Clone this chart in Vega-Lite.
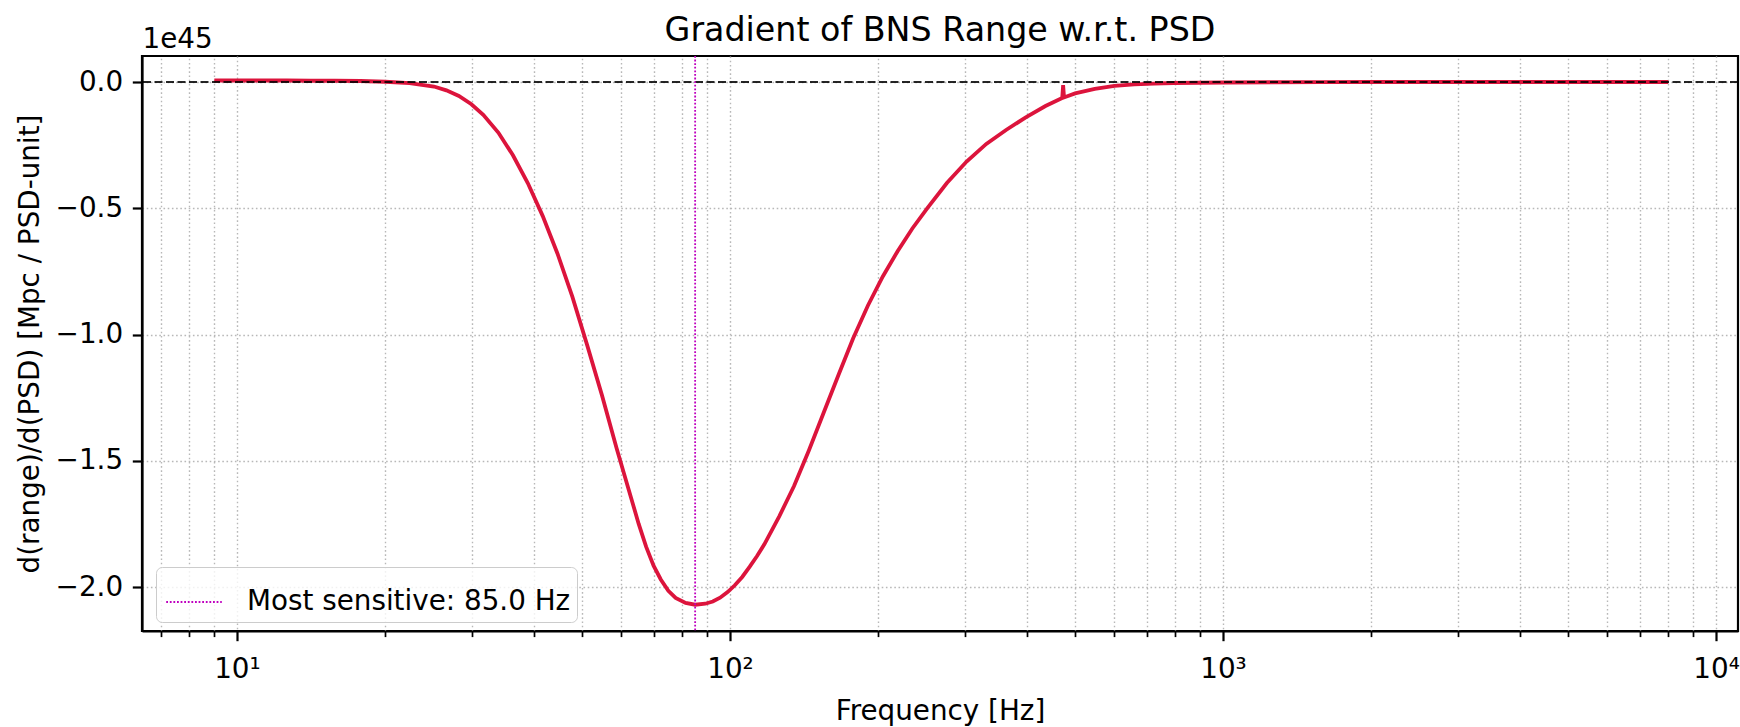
{
  "$schema": "https://vega.github.io/schema/vega-lite/v6.json",
  "width": 1596,
  "height": 575,
  "autosize": {"type": "none"},
  "padding": {"left": 142, "top": 56, "right": 2, "bottom": 96},
  "background": "white",
  "config": {
    "font": "DejaVu Sans",
    "view": {"stroke": "black", "strokeWidth": 2.2},
    "axis": {"labelFont": "DejaVu Sans", "titleFont": "DejaVu Sans", "labelColor": "black", "titleColor": "black"}
  },
  "title": {
    "text": "Gradient of BNS Range w.r.t. PSD",
    "font": "DejaVu Sans",
    "fontSize": 33.3,
    "fontWeight": "normal",
    "color": "black",
    "anchor": "middle",
    "offset": 12,
    "dy": 35
  },
  "datasets": {
    "curve": [
      {"freq": 9, "gradient": 0.006},
      {"freq": 10, "gradient": 0.006},
      {"freq": 11, "gradient": 0.006},
      {"freq": 12.6, "gradient": 0.006},
      {"freq": 14.1, "gradient": 0.005},
      {"freq": 15.8, "gradient": 0.005},
      {"freq": 17.8, "gradient": 0.004},
      {"freq": 20, "gradient": 0.001},
      {"freq": 22.4, "gradient": -0.004},
      {"freq": 25.1, "gradient": -0.018},
      {"freq": 26.6, "gradient": -0.033},
      {"freq": 28.2, "gradient": -0.055},
      {"freq": 29.9, "gradient": -0.088},
      {"freq": 31.6, "gradient": -0.13},
      {"freq": 33.9, "gradient": -0.2},
      {"freq": 36.3, "gradient": -0.29},
      {"freq": 38.9, "gradient": -0.4},
      {"freq": 41.7, "gradient": -0.53},
      {"freq": 44.7, "gradient": -0.68},
      {"freq": 47.9, "gradient": -0.85},
      {"freq": 51.3, "gradient": -1.04},
      {"freq": 55.0, "gradient": -1.24},
      {"freq": 58.9, "gradient": -1.45},
      {"freq": 63.1, "gradient": -1.65},
      {"freq": 65.3, "gradient": -1.75},
      {"freq": 67.6, "gradient": -1.84},
      {"freq": 70.0, "gradient": -1.915},
      {"freq": 72.4, "gradient": -1.97},
      {"freq": 75.0, "gradient": -2.015},
      {"freq": 77.6, "gradient": -2.043},
      {"freq": 81.3, "gradient": -2.063},
      {"freq": 85.0, "gradient": -2.07},
      {"freq": 89.1, "gradient": -2.066},
      {"freq": 92.3, "gradient": -2.057},
      {"freq": 95.5, "gradient": -2.042},
      {"freq": 98.9, "gradient": -2.02},
      {"freq": 102.3, "gradient": -1.993},
      {"freq": 105.9, "gradient": -1.96},
      {"freq": 109.6, "gradient": -1.92},
      {"freq": 113.5, "gradient": -1.877},
      {"freq": 117.5, "gradient": -1.83},
      {"freq": 125.9, "gradient": -1.72},
      {"freq": 134.9, "gradient": -1.6},
      {"freq": 144.5, "gradient": -1.46},
      {"freq": 154.9, "gradient": -1.31},
      {"freq": 166.0, "gradient": -1.16},
      {"freq": 177.8, "gradient": -1.015},
      {"freq": 190.5, "gradient": -0.885},
      {"freq": 204.2, "gradient": -0.77},
      {"freq": 218.8, "gradient": -0.67},
      {"freq": 234.4, "gradient": -0.58},
      {"freq": 251.2, "gradient": -0.5},
      {"freq": 275.4, "gradient": -0.4},
      {"freq": 302.0, "gradient": -0.315},
      {"freq": 331.1, "gradient": -0.245},
      {"freq": 363.1, "gradient": -0.19},
      {"freq": 398.1, "gradient": -0.14},
      {"freq": 436.5, "gradient": -0.095},
      {"freq": 472, "gradient": -0.063},
      {"freq": 474, "gradient": -0.012},
      {"freq": 476, "gradient": -0.061},
      {"freq": 501.2, "gradient": -0.045},
      {"freq": 549.5, "gradient": -0.027},
      {"freq": 602.6, "gradient": -0.015},
      {"freq": 660.7, "gradient": -0.009},
      {"freq": 724.4, "gradient": -0.006},
      {"freq": 794.3, "gradient": -0.004},
      {"freq": 1000, "gradient": -0.002},
      {"freq": 1259, "gradient": -0.001},
      {"freq": 1585, "gradient": -0.0005},
      {"freq": 2000, "gradient": 0.0},
      {"freq": 3162, "gradient": 0.0},
      {"freq": 5012, "gradient": 0.0},
      {"freq": 8000, "gradient": 0.0}
    ],
    "zero": [{"level": 0}],
    "peak": [{"freq": 85.0, "label": "Most sensitive: 85.0 Hz"}]
  },
  "resolve": {"axis": {"y": "independent", "x": "independent"}},
  "layer": [
    {
      "data": {"name": "curve"},
      "mark": {"type": "line", "color": "#dc143c", "strokeWidth": 3.8, "interpolate": "linear"},
      "encoding": {
        "x": {
          "field": "freq",
          "type": "quantitative",
          "scale": {"type": "log", "domain": [6.42, 11080], "nice": false},
          "axis": {
            "orient": "bottom",
            "title": "Frequency [Hz]",
            "values": [10, 100, 1000, 10000],
            "labelExpr": "datum.value == 10 ? '10¹' : datum.value == 100 ? '10²' : datum.value == 1000 ? '10³' : '10⁴'",
            "tickSize": 9.7,
            "tickWidth": 2.2,
            "tickColor": "black",
            "grid": true,
            "gridDash": [1.6, 2.6],
            "gridColor": "#b8b8b8",
            "gridWidth": 1.4,
            "domainColor": "black",
            "domainWidth": 2.2,
            "labelFontSize": 27.8,
            "labelPadding": 15,
            "labelFlush": false,
            "labelOverlap": false,
            "labelBound": false,
            "titleFontSize": 27.8,
            "titleFontWeight": "normal",
            "titleY": 80,
            "titleBaseline": "middle"
          }
        },
        "y": {
          "field": "gradient",
          "type": "quantitative",
          "scale": {"domain": [-2.174, 0.103], "nice": false, "zero": false},
          "axis": {
            "title": "d(range)/d(PSD) [Mpc / PSD-unit]",
            "values": [0, -0.5, -1, -1.5, -2],
            "format": ".1f",
            "tickSize": 9.7,
            "tickWidth": 2.2,
            "tickColor": "black",
            "labelPadding": 9.7,
            "labelFontSize": 27.8,
            "grid": true,
            "gridDash": [1.6, 2.6],
            "gridColor": "#b8b8b8",
            "gridWidth": 1.4,
            "domainColor": "black",
            "domainWidth": 2.2,
            "titleFontSize": 27.8,
            "titleFontWeight": "normal",
            "titlePadding": 11
          }
        }
      }
    },
    {
      "data": {"name": "zero"},
      "mark": {"type": "rule", "color": "black", "strokeWidth": 2.2, "strokeDash": [8, 3.5], "opacity": 0.85},
      "encoding": {
        "y": {
          "field": "level",
          "type": "quantitative",
          "scale": {"domain": [-2.174, 0.103], "nice": false, "zero": false},
          "axis": {
            "orient": "left",
            "title": "1e45",
            "titleAngle": 0,
            "titleX": 0,
            "titleY": -9,
            "titleAlign": "left",
            "titleBaseline": "alphabetic",
            "titleFontSize": 27.8,
            "titleFontWeight": "normal",
            "labels": false,
            "ticks": false,
            "domain": false,
            "grid": false
          }
        }
      }
    },
    {
      "data": {"name": "peak"},
      "mark": {"type": "rule", "strokeWidth": 1.8, "strokeDash": [1.8, 1.8]},
      "encoding": {
        "x": {
          "field": "freq",
          "type": "quantitative",
          "scale": {"type": "log", "domain": [6.42, 11080], "nice": false},
          "axis": {
            "orient": "bottom",
            "title": null,
            "values": [7, 8, 9, 20, 30, 40, 50, 60, 70, 80, 90, 200, 300, 400, 500, 600, 700, 800, 900, 2000, 3000, 4000, 5000, 6000, 7000, 8000, 9000],
            "labels": false,
            "domain": false,
            "tickSize": 5.6,
            "tickWidth": 1.7,
            "tickColor": "black",
            "grid": true,
            "gridDash": [1.6, 2.6],
            "gridColor": "#b8b8b8",
            "gridWidth": 1.4
          }
        },
        "color": {
          "field": "label",
          "type": "nominal",
          "scale": {"range": ["#bf00bf"]},
          "legend": {
            "title": null,
            "orient": "none",
            "legendX": 14,
            "legendY": 511,
            "symbolType": "stroke",
            "symbolSize": 3090,
            "symbolStrokeWidth": 1.8,
            "symbolDash": [1.8, 1.8],
            "symbolOffset": 3,
            "labelFontSize": 27.8,
            "labelFont": "DejaVu Sans",
            "labelColor": "black",
            "labelLimit": 1000,
            "labelOffset": 24,
            "padding": 6,
            "strokeColor": "#cccccc",
            "fillColor": "rgba(255,255,255,0.8)",
            "cornerRadius": 6
          }
        }
      }
    }
  ]
}
